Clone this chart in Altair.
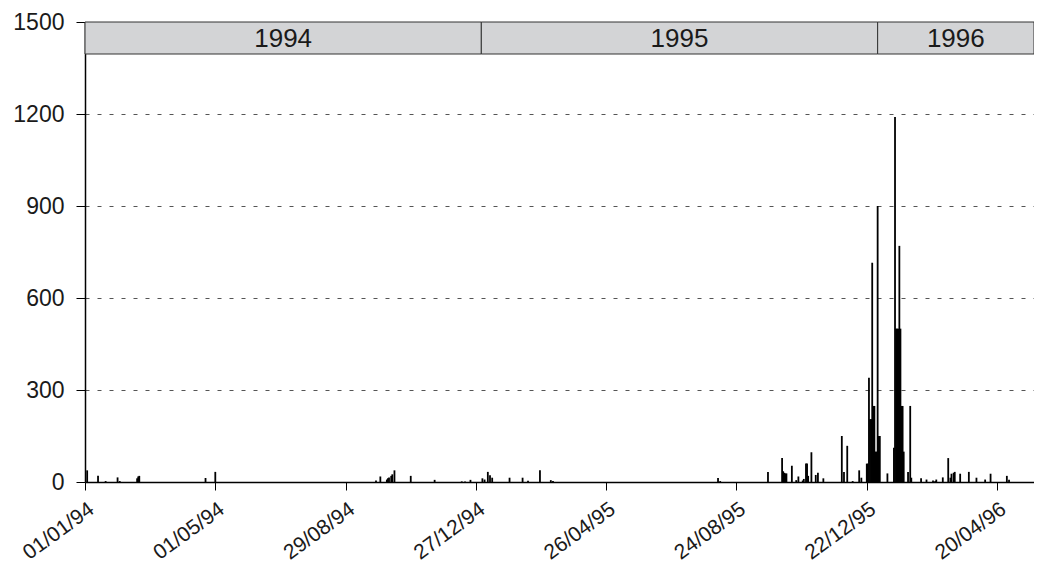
import altair as alt
import pandas as pd

# ---- data (daily values, only non-zero days) ----
dates = [
    "1994-01-03", "1994-01-13", "1994-01-20", "1994-01-31", "1994-02-02",
    "1994-02-18", "1994-02-19", "1994-02-20", "1994-04-22", "1994-05-01",
    "1994-09-26", "1994-09-30", "1994-10-06", "1994-10-07", "1994-10-08",
    "1994-10-10", "1994-10-11", "1994-10-13", "1994-10-28", "1994-11-19",
    "1994-12-14", "1994-12-17", "1994-12-22",
    "1995-01-02", "1995-01-04", "1995-01-07", "1995-01-09", "1995-01-11",
    "1995-01-27", "1995-02-08", "1995-02-13", "1995-02-24", "1995-03-06",
    "1995-03-08", "1995-08-07", "1995-08-09", "1995-09-22", "1995-10-05",
    "1995-10-06", "1995-10-07", "1995-10-08", "1995-10-09", "1995-10-14",
    "1995-10-18", "1995-10-20", "1995-10-24", "1995-10-25", "1995-10-27",
    "1995-10-28", "1995-10-29", "1995-11-01", "1995-11-05", "1995-11-07",
    "1995-11-12", "1995-11-29", "1995-12-01", "1995-12-04", "1995-12-09",
    "1995-12-15", "1995-12-17", "1995-12-22", "1995-12-23", "1995-12-24",
    "1995-12-25", "1995-12-26", "1995-12-27", "1995-12-28", "1995-12-29",
    "1995-12-30", "1995-12-31", "1996-01-01", "1996-01-02", "1996-01-03",
    "1996-01-10", "1996-01-16", "1996-01-17", "1996-01-18", "1996-01-19",
    "1996-01-20", "1996-01-21", "1996-01-22", "1996-01-23", "1996-01-24",
    "1996-01-25", "1996-01-29", "1996-01-31", "1996-02-01", "1996-02-10",
    "1996-02-15", "1996-02-21", "1996-02-23", "1996-02-24", "1996-03-01",
    "1996-03-06", "1996-03-08", "1996-03-09", "1996-03-11", "1996-03-12",
    "1996-03-17", "1996-03-25", "1996-04-01", "1996-04-09", "1996-04-14",
    "1996-04-29", "1996-05-01",
]
values = [
    38, 20, 3, 15, 3,
    12, 18, 20, 13, 33,
    5, 18, 8, 12, 15,
    20, 25, 38, 20, 7,
    2, 2, 7,
    12, 8, 33, 22, 14,
    14, 14, 4, 38, 6,
    3, 13, 3, 33, 78,
    35, 30, 28, 28, 53,
    6, 18, 5, 10, 60,
    60, 20, 97, 23, 30,
    12, 150, 33, 118, 3,
    38, 14, 60, 60, 340,
    205, 205, 715, 248, 248,
    99, 99, 900, 150, 150,
    28, 112, 1190, 500, 500,
    500, 770, 500, 248, 248,
    99, 33, 248, 14, 12,
    8, 5, 3, 8, 15,
    78, 14, 27, 30, 33,
    27, 33, 14, 8, 27,
    20, 7,
]

tick_dates = ["1994-01-01", "1994-05-01", "1994-08-29", "1994-12-27",
              "1995-04-26", "1995-08-24", "1995-12-22", "1996-04-20"]
y_ticks = [0, 300, 600, 900, 1200, 1500]

years = ["1994", "1995", "1996"]
year_starts = ["1994-01-01", "1995-01-01", "1996-01-01"]
year_ends = ["1995-01-01", "1996-01-01", "1996-05-24"]

x_start = "1994-01-01"
x_end = "1996-05-24"


def ms(d):
    return int(pd.Timestamp(d, tz="UTC").value // 10**6)


df = pd.DataFrame({"date": dates, "value": values})
yr = pd.DataFrame({"year": years, "start": year_starts, "end": year_ends})
yr["mid"] = [
    (pd.Timestamp(s) + (pd.Timestamp(e) - pd.Timestamp(s)) / 2).strftime("%Y-%m-%dT%H:%M:%S")
    for s, e in zip(year_starts, year_ends)
]

FONT = "Liberation Sans"
TXT = "#1a1a1a"

xscale = alt.Scale(type="utc", domain=[ms(x_start), ms(x_end)], padding=0)

x_axis = alt.Axis(
    values=[ms(d) for d in tick_dates],
    format="%d/%m/%y",
    labelAngle=-36,
    labelAlign="right",
    labelBaseline="top",
    labelFontSize=21,
    labelFont=FONT,
    labelColor=TXT,
    labelPadding=8,
    labelOverlap=False,
    labelFlush=False,
    tickSize=8,
    tickColor="black",
    domainColor="black",
    domainWidth=1.5,
    grid=False,
    title=None,
)
y_axis = alt.Axis(
    values=y_ticks,
    format="d",
    grid=True,
    gridDash=[4, 8],
    gridColor="#555555",
    gridWidth=1,
    domainColor="black",
    domainWidth=1.5,
    tickColor="black",
    tickSize=9,
    labelFontSize=23,
    labelFont=FONT,
    labelColor=TXT,
    labelPadding=12,
    title=None,
)

bars = alt.Chart(df).mark_bar(color="black", size=1.8).encode(
    x=alt.X("date:T", scale=xscale, axis=x_axis),
    y=alt.Y("value:Q", scale=alt.Scale(domain=[0, 1500], nice=False), axis=y_axis),
)

band = alt.Chart(yr).mark_rect(fill="#d3d4d6", stroke="#333333", strokeWidth=1).encode(
    x=alt.X("start:T", scale=xscale),
    x2="end:T",
    y=alt.value(0),
    y2=alt.value(32),
)

band_text = alt.Chart(yr).mark_text(fontSize=26, font=FONT, color=TXT, baseline="middle").encode(
    x=alt.X("mid:T", scale=xscale),
    y=alt.value(17),
    text="year:N",
)

chart = (
    alt.layer(bars, band, band_text)
    .properties(
        width=949,
        height=460,
        autosize=alt.AutoSizeParams(type="none"),
        padding={"left": 77, "top": 14, "right": 0, "bottom": 85},
    )
    .configure_view(strokeWidth=0)
)

chart.save("out.html", embed_options={"renderer": "svg", "actions": False})
